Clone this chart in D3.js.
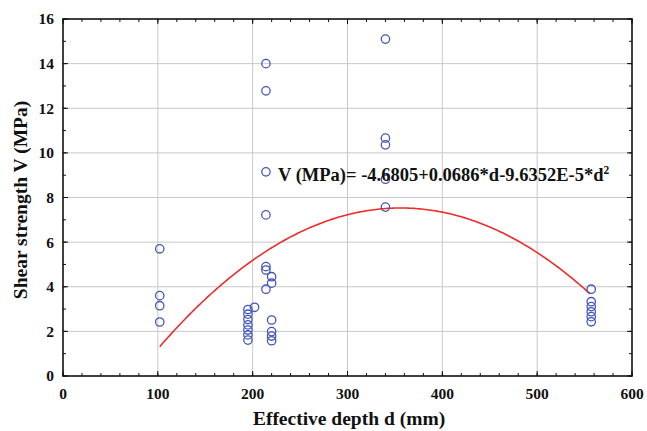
<html>
  <head>
    <title>Shear strength vs effective depth</title>
    <script type="text/javascript" src="https://cdn.jsdelivr.net/npm/d3@7"></script>
    <style type="text/css">

body {
  margin: 0;
  background: #fff;
}

text {
  font-family: "Liberation Serif", "Times New Roman", serif;
  font-weight: bold;
  fill: #111;
}

    </style>
  </head>
  <body>
    <script type="text/javascript">

// measured points, d (mm) and V (MPa)
var depth = [102, 102, 102, 102,
             195, 195, 195, 195, 195, 195, 195, 202,
             214, 214, 214, 214, 214, 214, 214,
             220, 220, 220, 220, 220, 220,
             340, 340, 340, 340, 340,
             557, 557, 557, 557, 557, 557];
var strength = [5.7, 3.6, 3.15, 2.42,
                2.98, 2.77, 2.53, 2.29, 2.06, 1.84, 1.61, 3.08,
                14.0, 12.78, 9.15, 7.22, 4.9, 4.75, 3.89,
                4.45, 4.16, 2.51, 1.99, 1.79, 1.58,
                15.1, 10.66, 10.36, 8.82, 7.57,
                3.89, 3.33, 3.11, 2.88, 2.66, 2.43];

// fitted curve from the chart annotation
var fitCoef = [-4.6805, 0.0686, -9.6352e-5];
var fitRange = [102, 557];

var xTicks = [0, 100, 200, 300, 400, 500, 600],
    yTicks = [0, 2, 4, 6, 8, 10, 12, 14, 16];

var w = 647,
    h = 431,
    x0 = 63,
    x1 = 632,
    y0 = 376,
    y1 = 19;

var x = d3.scaleLinear().domain([0, 600]).range([x0, x1]),
    y = d3.scaleLinear().domain([0, 16]).range([y0, y1]);

var svg = d3.select("body")
  .append("svg")
    .attr("width", w)
    .attr("height", h);

// grid
svg.append("g")
  .selectAll("line")
    .data(xTicks.slice(1, -1))
  .enter().append("line")
    .attr("x1", x).attr("x2", x)
    .attr("y1", y1).attr("y2", y0)
    .attr("stroke", "#c8c8c8");

svg.append("g")
  .selectAll("line")
    .data(yTicks.slice(1, -1))
  .enter().append("line")
    .attr("x1", x0).attr("x2", x1)
    .attr("y1", y).attr("y2", y)
    .attr("stroke", "#c8c8c8");

// inward ticks on all four sides
function ticks(scale, values, size, side) {
  var g = svg.append("g").attr("stroke", "#111").attr("stroke-width", 1);
  g.selectAll("line")
      .data(values)
    .enter().append("line")
      .attr("x1", function(d) { return side == "left" ? x0 : side == "right" ? x1 : scale(d); })
      .attr("x2", function(d) { return side == "left" ? x0 + size : side == "right" ? x1 - size : scale(d); })
      .attr("y1", function(d) { return side == "bottom" ? y0 : side == "top" ? y1 : scale(d); })
      .attr("y2", function(d) { return side == "bottom" ? y0 - size : side == "top" ? y1 + size : scale(d); });
}

var xMinor = d3.range(0, 601, 20),
    yMinor = d3.range(0, 16.1, 1);

["bottom", "top"].forEach(function(s) {
  ticks(x, xMinor, 3, s);
  ticks(x, xTicks, 5, s);
});
["left", "right"].forEach(function(s) {
  ticks(y, yMinor, 3, s);
  ticks(y, yTicks, 5, s);
});

// frame
svg.append("rect")
    .attr("x", x0)
    .attr("y", y1)
    .attr("width", x1 - x0)
    .attr("height", y0 - y1)
    .attr("fill", "none")
    .attr("stroke", "#111")
    .attr("stroke-width", 1.6);

// tick labels
svg.append("g")
  .selectAll("text")
    .data(xTicks)
  .enter().append("text")
    .attr("x", x)
    .attr("y", 399)
    .attr("text-anchor", "middle")
    .style("font-size", "15.5px")
    .text(function(d) { return d; });

svg.append("g")
  .selectAll("text")
    .data(yTicks)
  .enter().append("text")
    .attr("x", 54)
    .attr("y", y)
    .attr("dy", ".35em")
    .attr("text-anchor", "end")
    .style("font-size", "15.5px")
    .text(function(d) { return d; });

// axis titles
svg.append("text")
    .attr("x", 349)
    .attr("y", 425)
    .attr("text-anchor", "middle")
    .style("font-size", "19.5px")
    .text("Effective depth d (mm)");

svg.append("text")
    .attr("transform", "translate(27,200) rotate(-90)")
    .attr("text-anchor", "middle")
    .style("font-size", "19.5px")
    .text("Shear strength V (MPa)");

// fit curve
var curve = d3.range(fitRange[0], fitRange[1] + 0.1, 2).map(function(d) {
  return [d, fitCoef[0] + fitCoef[1] * d + fitCoef[2] * d * d];
});

svg.append("path")
    .datum(curve)
    .attr("fill", "none")
    .attr("stroke", "#ee2a2a")
    .attr("stroke-width", 1.6)
    .attr("d", d3.line()
      .x(function(d) { return x(d[0]); })
      .y(function(d) { return y(d[1]); }));

// points
svg.append("g")
  .selectAll("circle")
    .data(depth)
  .enter().append("circle")
    .attr("cx", function(d) { return x(d); })
    .attr("cy", function(d, i) { return y(strength[i]); })
    .attr("r", 4.2)
    .attr("fill", "none")
    .attr("stroke", "#4456bb")
    .attr("stroke-width", 1.3);

// equation
var eq = svg.append("text")
    .attr("x", 278)
    .attr("y", 181)
    .style("font-size", "18.5px");
eq.append("tspan").text("V (MPa)= -4.6805+0.0686*d-9.6352E-5*d");
eq.append("tspan")
    .attr("dy", -7)
    .style("font-size", "11.5px")
    .text("2");

    </script>
  </body>
</html>
